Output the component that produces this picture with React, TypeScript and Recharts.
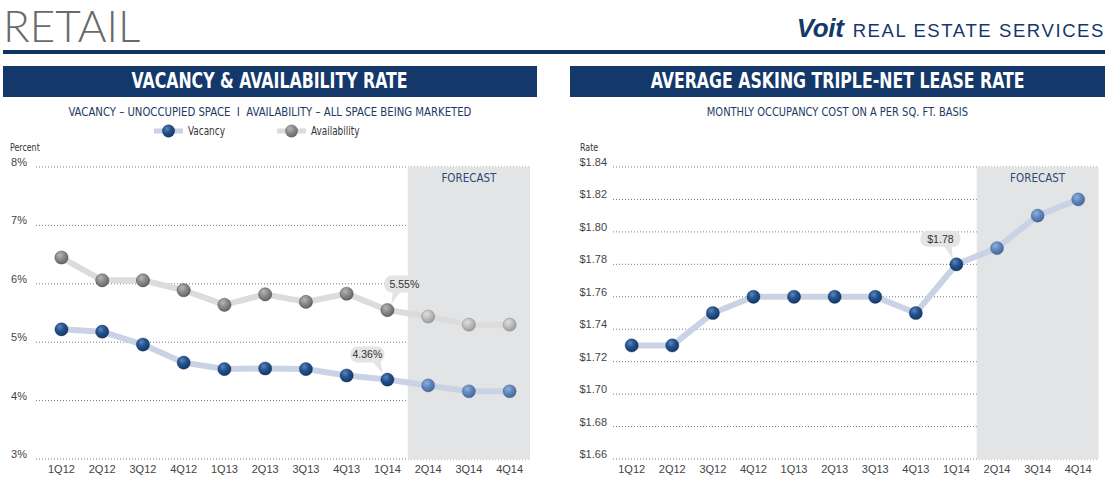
import React from 'react';
import {
  LineChart, Line, XAxis, YAxis, CartesianGrid, ReferenceArea, LabelList,
} from 'recharts';

// ---------- data ----------
const categories = ['1Q12', '2Q12', '3Q12', '4Q12', '1Q13', '2Q13', '3Q13', '4Q13', '1Q14', '2Q14', '3Q14', '4Q14'];
const vacancy = [5.22, 5.18, 4.96, 4.65, 4.54, 4.55, 4.54, 4.43, 4.36, 4.26, 4.16, 4.16];
const availability = [6.45, 6.06, 6.06, 5.89, 5.64, 5.82, 5.69, 5.83, 5.55, 5.44, 5.30, 5.30];
const leaseRate = [1.73, 1.73, 1.75, 1.76, 1.76, 1.76, 1.76, 1.75, 1.78, 1.79, 1.81, 1.82];
const percentTicks = [3, 4, 5, 6, 7, 8];
const rateTicks = [1.66, 1.68, 1.70, 1.72, 1.74, 1.76, 1.78, 1.80, 1.82, 1.84];
const forecastFrom = '2Q14';
const seriesNames = ['Vacancy', 'Availability'];

const forecastIndex = categories.indexOf(forecastFrom);
const calloutIndex = forecastIndex - 1;

const leftData = categories.map((c, i) => ({ i, cat: c, vacancy: vacancy[i], availability: availability[i] }));
const rightData = categories.map((c, i) => ({ i, cat: c, rate: leaseRate[i] }));

// ---------- styles ----------
const NARROW = "'Liberation Sans Narrow','Arial Narrow','DejaVu Sans Condensed',sans-serif";
const SANS = "'Liberation Sans',Arial,sans-serif";
const NAVY = '#14386a';
const TEXT_NAVY = '#1e3a64';

const makeDot = (solid: string, forecast: string) => (props: any) => {
  const { cx, cy, index } = props;
  if (cx == null || cy == null) return <g key={`d${index}`} />;
  return (
    <circle
      key={`d${index}`}
      cx={cx}
      cy={cy}
      r={6.6}
      fill={`url(#${index >= forecastIndex ? forecast : solid})`}
      stroke={index >= forecastIndex ? 'rgba(40,60,90,0.35)' : 'rgba(10,25,50,0.55)'}
      strokeWidth={0.6}
    />
  );
};

const makeCallout = (fmt: (v: number) => string, dx: number, dy: number, w: number, h: number) => (props: any) => {
  const { x, y, value, index } = props;
  if (index !== calloutIndex) return null;
  const bx = x + dx;
  const by = y + dy;
  const vx = bx - x;
  const vy = by - y;
  const len = Math.sqrt(vx * vx + vy * vy);
  const ax = x + (vx / len) * 7;
  const ay = y + (vy / len) * 7;
  const baseX = bx + (x - bx) * 0.45;
  const bottom = by + h / 2 - 1;
  return (
    <g>
      <polygon points={`${baseX - 4},${bottom} ${baseX + 4},${bottom} ${ax},${ay}`} fill="#e4e4e4" />
      <rect x={bx - w / 2} y={by - h / 2} width={w} height={h} rx={7} ry={7} fill="#e4e4e4" />
      <text x={bx} y={by + 3.8} textAnchor="middle" fontFamily={SANS} fontSize={10.5} fill="#333">
        {fmt(value)}
      </text>
    </g>
  );
};

const yTick = (fmt: (v: number) => string) => (props: any) => (
  <text x={props.x} y={props.y} dy={-1} textAnchor="end" fontFamily={SANS} fontSize={11} fill="#444">
    {fmt(props.payload.value)}
  </text>
);

const xTick = (props: any) => (
  <text x={props.x} y={props.y} dy={10} textAnchor="middle" fontFamily={SANS} fontSize={11} fill="#444">
    {categories[props.payload.value]}
  </text>
);

const forecastLabel = {
  value: 'FORECAST',
  position: 'insideTop' as const,
  offset: 7,
  fill: '#2d4a73',
  fontSize: 11.5,
  fontFamily: NARROW,
};

const Squeeze = ({ k, children }: { k: number; children: React.ReactNode }) => (
  <span style={{ display: 'inline-block', transform: `scaleX(${k})`, transformOrigin: 'center', whiteSpace: 'pre' }}>
    {children}
  </span>
);

const TitleBar = ({ left, width, text }: { left: number; width: number; text: string }) => (
  <div
    style={{
      position: 'absolute', left, top: 66, width, height: 31, background: NAVY,
      color: '#fff', fontFamily: NARROW, fontWeight: 700, fontSize: 20.5,
      lineHeight: '31px', textAlign: 'center', whiteSpace: 'nowrap',
    }}
  >
    <Squeeze k={0.855}>{text}</Squeeze>
  </div>
);

const Subtitle = ({ left, width, text, k }: { left: number; width: number; text: string; k: number }) => (
  <div
    style={{
      position: 'absolute', left, top: 104, width, fontFamily: NARROW, fontSize: 12.5,
      color: TEXT_NAVY, textAlign: 'center', lineHeight: '15px', whiteSpace: 'nowrap',
    }}
  >
    <Squeeze k={k}>{text}</Squeeze>
  </div>
);

const LegendItem = ({ x, name, grad, line }: { x: number; name: string; grad: string; line: string }) => (
  <g>
    <line x1={x} y1={8} x2={x + 29} y2={8} stroke={line} strokeWidth={5} />
    <circle cx={x + 14.5} cy={8} r={6.4} fill={`url(#${grad})`} />
    <g transform={`translate(${x + 34},12) scale(0.86,1)`}>
      <text x={0} y={0} fontFamily={NARROW} fontSize={11.5} fill="#333">{name}</text>
    </g>
  </g>
);

export default function App() {
  return (
    <div style={{ position: 'absolute', left: 0, top: 0, width: 1109, height: 492, background: '#fff', overflow: 'hidden' }}>
      <svg width={0} height={0} style={{ position: 'absolute' }}>
        <defs>
          <radialGradient id="gNavy" cx="38%" cy="32%" r="70%">
            <stop offset="0%" stopColor="#5b86bf" />
            <stop offset="45%" stopColor="#24548f" />
            <stop offset="100%" stopColor="#123868" />
          </radialGradient>
          <radialGradient id="gNavyF" cx="38%" cy="32%" r="70%">
            <stop offset="0%" stopColor="#8fb0dc" />
            <stop offset="50%" stopColor="#5f86bd" />
            <stop offset="100%" stopColor="#46689b" />
          </radialGradient>
          <radialGradient id="gGrey" cx="38%" cy="32%" r="70%">
            <stop offset="0%" stopColor="#b5b5b5" />
            <stop offset="50%" stopColor="#8a8a8a" />
            <stop offset="100%" stopColor="#656565" />
          </radialGradient>
          <radialGradient id="gGreyF" cx="38%" cy="32%" r="70%">
            <stop offset="0%" stopColor="#dedede" />
            <stop offset="50%" stopColor="#bdbdbd" />
            <stop offset="100%" stopColor="#9c9c9c" />
          </radialGradient>
        </defs>
      </svg>

      {/* header */}
      <div style={{ position: 'absolute', left: 3, top: 1, fontFamily: "Lato,'Open Sans',sans-serif", fontWeight: 300, fontSize: 44, lineHeight: '48px', color: '#6a6a6a' }}>
        RETAIL
      </div>
      <div style={{ position: 'absolute', right: 4, top: 12, whiteSpace: 'nowrap', color: NAVY, lineHeight: '32px' }}>
        <span style={{ fontFamily: SANS, fontWeight: 700, fontStyle: 'italic', fontSize: 26, letterSpacing: -0.3 }}>Voit</span>
        <span style={{ fontFamily: SANS, fontSize: 18.5, letterSpacing: 1.6, marginLeft: 9 }}>REAL ESTATE SERVICES</span>
      </div>
      <div style={{ position: 'absolute', left: 3, top: 50, width: 1102, height: 4, background: '#0e3360' }} />

      {/* left panel */}
      <TitleBar left={3} width={534} text="VACANCY & AVAILABILITY RATE" />
      <Subtitle left={3} width={534} k={0.9} text="VACANCY – UNOCCUPIED SPACE  I  AVAILABILITY – ALL SPACE BEING MARKETED" />
      <svg width={300} height={18} style={{ position: 'absolute', left: 154, top: 123 }}>
        <LegendItem x={0} name={seriesNames[0]} grad="gNavy" line="#c9d3e5" />
        <LegendItem x={123} name={seriesNames[1]} grad="gGrey" line="#dcdcdc" />
      </svg>
      <div style={{ position: 'absolute', left: 10, top: 142, fontFamily: NARROW, fontSize: 10, color: '#333' }}>
        <span style={{ display: 'inline-block', transform: 'scaleX(0.88)', transformOrigin: 'left' }}>Percent</span>
      </div>

      <div style={{ position: 'absolute', left: 0, top: 140 }}>
        <LineChart width={540} height={352} data={leftData} margin={{ top: 27, right: 10, bottom: 8, left: 0 }}>
          <ReferenceArea x1={forecastIndex - 0.5} x2={11.5} fill="#e3e4e6" fillOpacity={1} stroke="none" label={forecastLabel} ifOverflow="extendDomain" />
          <CartesianGrid vertical={false} stroke="#7a7a7a" strokeDasharray="1 2" />
          <XAxis
            dataKey="i" type="number" domain={[-0.625, 11.5]} allowDataOverflow
            ticks={categories.map((_, i) => i)} interval={0} axisLine={false} tickLine={false}
            tickSize={0} tickMargin={4} height={25} tick={xTick}
          />
          <YAxis
            type="number" domain={[3, 8]} ticks={percentTicks} allowDataOverflow width={36}
            axisLine={false} tickLine={false} tickSize={0} tickMargin={9}
            tick={yTick((v) => `${v}%`)}
          />
          <Line dataKey="availability" name={seriesNames[1]} type="linear" stroke="#dcdcdc" strokeWidth={6}
            dot={makeDot('gGrey', 'gGreyF')} activeDot={false} isAnimationActive={false}>
            <LabelList dataKey="availability" content={makeCallout((v) => `${v.toFixed(2)}%`, 17, -26, 40, 17)} />
          </Line>
          <Line dataKey="vacancy" name={seriesNames[0]} type="linear" stroke="#c9d3e5" strokeWidth={6}
            dot={makeDot('gNavy', 'gNavyF')} activeDot={false} isAnimationActive={false}>
            <LabelList dataKey="vacancy" content={makeCallout((v) => `${v.toFixed(2)}%`, -20, -25, 34, 16)} />
          </Line>
        </LineChart>
      </div>

      {/* right panel */}
      <TitleBar left={570} width={535} text="AVERAGE ASKING TRIPLE-NET LEASE RATE" />
      <Subtitle left={570} width={535} k={0.88} text="MONTHLY OCCUPANCY COST ON A PER SQ. FT. BASIS" />
      <div style={{ position: 'absolute', left: 580, top: 142, fontFamily: NARROW, fontSize: 10, color: '#333' }}>
        <span style={{ display: 'inline-block', transform: 'scaleX(0.88)', transformOrigin: 'left' }}>Rate</span>
      </div>

      <div style={{ position: 'absolute', left: 560, top: 140 }}>
        <LineChart width={549} height={352} data={rightData} margin={{ top: 27, right: 10.5, bottom: 8, left: 0 }}>
          <ReferenceArea x1={forecastIndex - 0.5} x2={11.5} fill="#e3e4e6" fillOpacity={1} stroke="none" label={forecastLabel} ifOverflow="extendDomain" />
          <CartesianGrid vertical={false} stroke="#7a7a7a" strokeDasharray="1 2" />
          <XAxis
            dataKey="i" type="number" domain={[-0.46, 11.5]} allowDataOverflow
            ticks={categories.map((_, i) => i)} interval={0} axisLine={false} tickLine={false}
            tickSize={0} tickMargin={4} height={25} tick={xTick}
          />
          <YAxis
            type="number" domain={[1.66, 1.84]} ticks={rateTicks} allowDataOverflow width={53}
            axisLine={false} tickLine={false} tickSize={0} tickMargin={6}
            tick={yTick((v) => `$${v.toFixed(2)}`)}
          />
          <Line dataKey="rate" name="Rate" type="linear" stroke="#c9d3e5" strokeWidth={6}
            dot={makeDot('gNavy', 'gNavyF')} activeDot={false} isAnimationActive={false}>
            <LabelList dataKey="rate" content={makeCallout((v) => `$${v.toFixed(2)}`, -16, -25.5, 40, 16)} />
          </Line>
        </LineChart>
      </div>
    </div>
  );
}
